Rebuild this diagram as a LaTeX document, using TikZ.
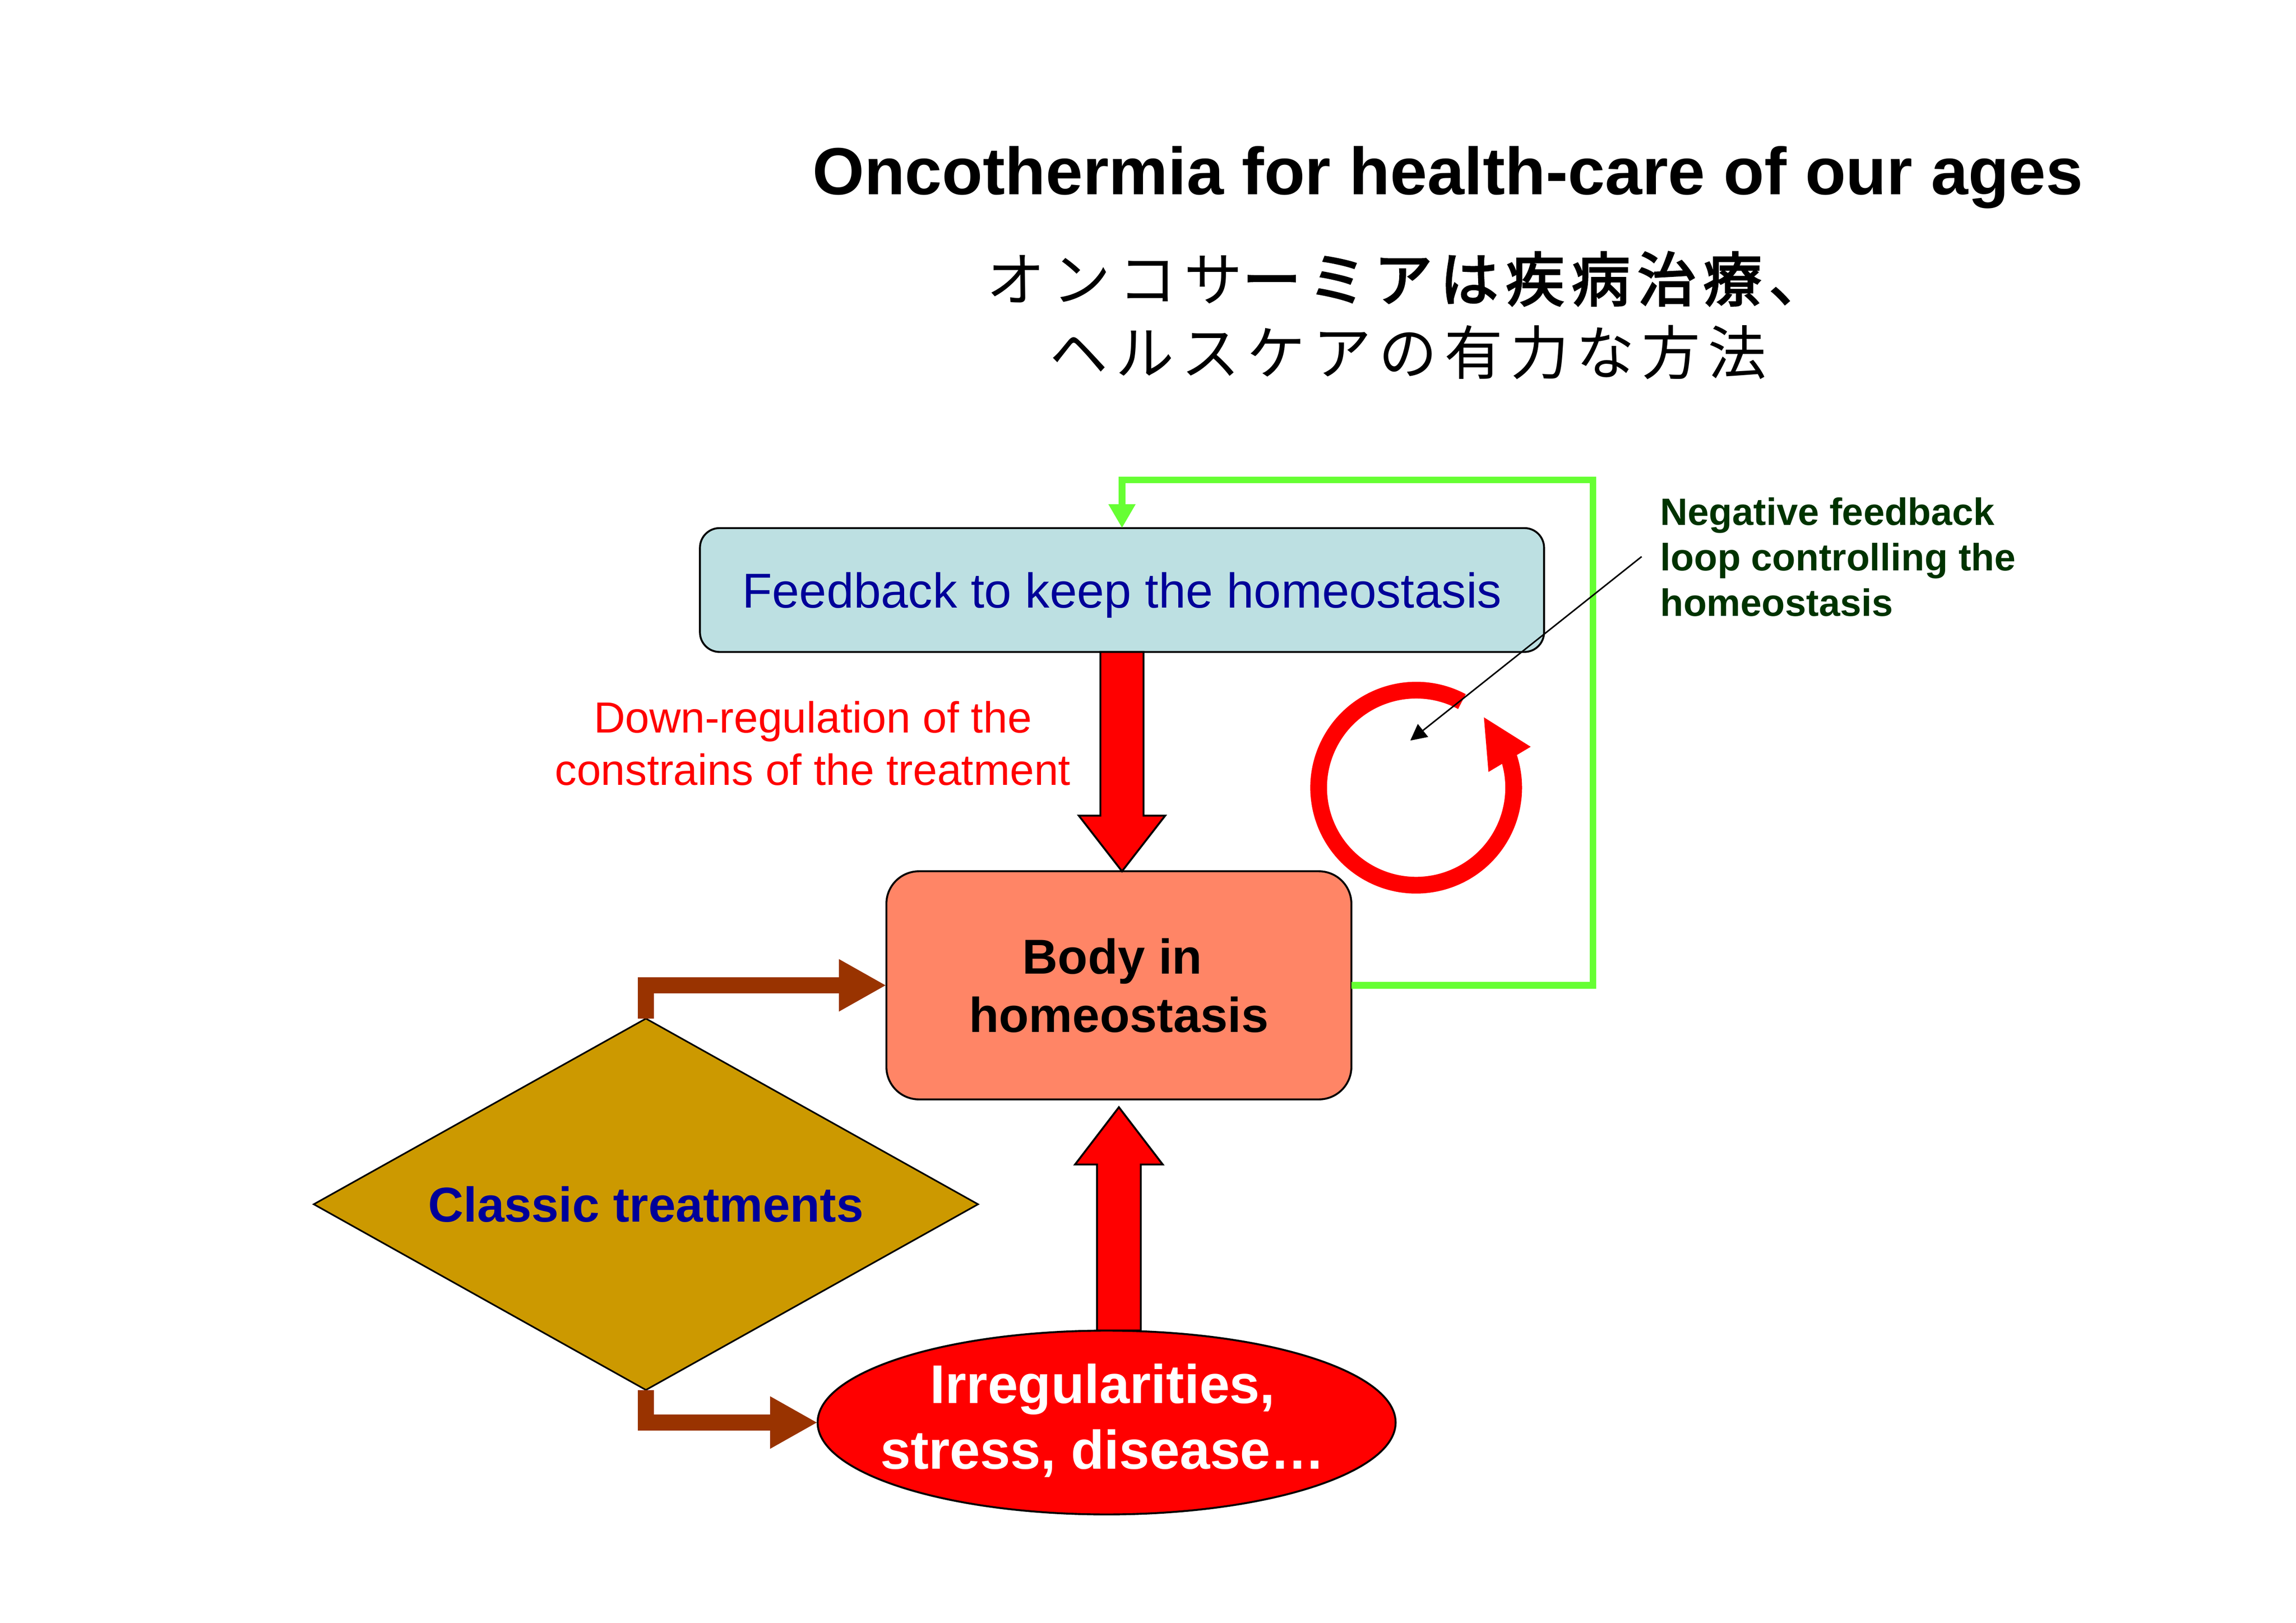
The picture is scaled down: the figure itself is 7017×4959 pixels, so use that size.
\documentclass[tikz,border=0pt]{standalone}
\usepackage{fontspec}
\setmainfont{Liberation Sans}
\newfontfamily\cjk[LetterSpace=12.5]{Noto Sans CJK JP}
\newfontfamily\cjkb[LetterSpace=12.5,FakeBold=3]{Noto Sans CJK JP}
\usetikzlibrary{shapes.geometric,arrows.meta,calc}
\definecolor{fbfill}{RGB}{189,224,226}
\definecolor{bodyfill}{RGB}{255,133,102}
\definecolor{diafill}{RGB}{204,153,0}
\definecolor{txtblue}{RGB}{0,0,153}
\definecolor{loopgreen}{RGB}{102,255,51}
\definecolor{brownc}{RGB}{153,51,0}
\definecolor{darkgr}{RGB}{0,51,0}
\definecolor{redc}{RGB}{255,0,0}
\tikzset{
  boxstyle/.style={draw=black, line width=0.7pt, outer sep=0pt},
  blockarrow/.style={fill=redc, draw=black, line width=0.7pt, line join=miter},
  loopline/.style={draw=loopgreen, line width=0.0847cm, line join=miter,
    -{Triangle[length=0.309cm,width=0.33cm]}},
  brownline/.style={draw=brownc, line width=0.2116cm, line join=miter,
    -{Triangle[length=0.614cm,width=0.631cm]}},
  thinarrow/.style={draw=black, line width=0.55pt,
    -{Triangle[length=0.21cm,width=0.21cm]}},
  plaintext/.style={inner sep=0pt, outer sep=0pt}
}
\begin{document}
\begin{tikzpicture}[x=0.0042326cm,y=-0.0042326cm]
\fill[white] (0,0) rectangle (7017,4959);
\useasboundingbox (0,0) rectangle (7017,4959);

% titles
\node[plaintext, anchor=base west, font=\bfseries\fontsize{24.5}{29}\selectfont] (title) at (2483,594) {Oncothermia for health-care of our ages};
\node[plaintext, anchor=base west, font=\cjk\fontsize{21.5}{26}\selectfont] (jp1) at (3015,920) {オンコサ{\cjkb ーミアは疾病治療、}};
\node[plaintext, anchor=base west, font=\cjk\fontsize{21.5}{26}\selectfont] (jp2) at (3208,1144) {ヘルスケアの有力な方法};

% nodes
\node[boxstyle, fill=fbfill, rounded corners=0.254cm, minimum width=10.903cm, minimum height=1.6cm, inner sep=0pt, text depth=0pt, text=txtblue, font=\fontsize{18}{21.6}\selectfont] (fb) at (3429,1803) {Feedback to keep the homeostasis};

\node[boxstyle, fill=bodyfill, rounded corners=0.42cm, minimum width=6.006cm, minimum height=2.946cm, inner sep=0pt, align=center, font=\bfseries\fontsize{18}{21.4}\selectfont] (body) at (3419.5,3011) {Body in\kern4.8pt\\homeostasis};

\node[diamond, draw=black, line width=0.6pt, fill=diafill, shape aspect=1.79, minimum width=8.58cm, minimum height=4.796cm, inner sep=0pt, outer sep=0pt, text=txtblue, font=\bfseries\fontsize{18}{21.6}\selectfont] (dia) at (1974,3680) {Classic treatments};

% red up arrow (drawn before ellipse)
\coordinate (uS) at (3419.5,4066);
\coordinate (uE) at ($(body.south)+(0,24)$);
\draw[blockarrow] ($(uS)+(-67,0)$) -- ($(uE)+(-67,175)$) -- ($(uE)+(-134,175)$) -- (uE) -- ($(uE)+(134,175)$) -- ($(uE)+(67,175)$) -- ($(uS)+(67,0)$) -- cycle;

\node[ellipse, draw=black, line width=0.7pt, fill=redc, minimum width=7.466cm, minimum height=2.374cm, inner sep=0pt, outer sep=0pt] (ell) at (3382,4347) {};
\node[plaintext, align=center, text=white, font=\bfseries\fontsize{20}{24}\selectfont] (ellt) at ($(ell.center)+(-12,-6)$) {Irregularities,\\stress, disease…};

% red down arrow
\coordinate (dS) at (fb.south);
\coordinate (dE) at (fb.south |- body.north);
\draw[blockarrow] ($(dS)+(-66,0)$) -- ($(dE)+(-66,-170)$) -- ($(dE)+(-132,-170)$) -- (dE) -- ($(dE)+(132,-170)$) -- ($(dE)+(66,-170)$) -- ($(dS)+(66,0)$) -- cycle;

% green feedback loop
\coordinate (gc) at (4868,1467);
\draw[loopline] (body.east) -- (body.east -| gc) -- (gc) -- (gc -| fb.north) -- (fb.north);

% brown arrows
\draw[brownline] (dia.north) |- (body.west);
\draw[brownline] (dia.south) |- (ell.west);

% circular arrow
\draw[draw=redc, line width=0.216cm] (4467.9,2143.9) arc[start angle=-62, end angle=-378, radius=298];
\fill[redc] (4549,2359) -- (4535,2192) -- (4678,2282) -- cycle;

% labels
\node[plaintext, align=center, text=redc, font=\fontsize{16}{19.3}\selectfont] (dr) at (2484,2272) {Down-regulation of the\\constrains of the treatment};

\node[plaintext, anchor=north west, align=left, text=darkgr, font=\bfseries\fontsize{14}{16.7}\selectfont] (nf) at (5074,1521) {Negative feedback\\loop controlling the\\homeostasis};

\coordinate (nfs) at (5017,1701);
\coordinate (loopc) at (4310,2263);
\draw[thinarrow] (nfs) -- (loopc);
\end{tikzpicture}
\end{document}
